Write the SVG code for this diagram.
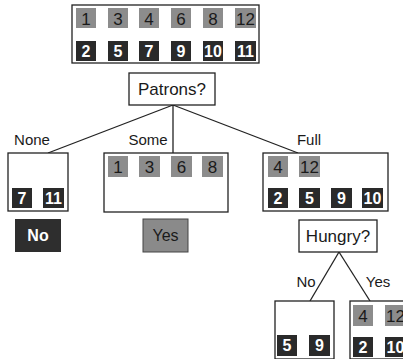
<svg xmlns="http://www.w3.org/2000/svg" width="403" height="359" viewBox="0 0 403 359">
<style>
text{font-family:"Liberation Sans",Arial,sans-serif;}
.box{fill:#fff;stroke:#222;stroke-width:1.3;}
.lt{fill:#8c8c8c;}
.dk{fill:#2a2a2a;}
.tl{font-size:17px;fill:#1a1a1a;text-anchor:middle;}
.td{font-size:16px;fill:#fff;text-anchor:middle;font-weight:bold;}
.q{font-size:17px;fill:#1a1a1a;text-anchor:middle;}
.lab{font-size:15px;fill:#1a1a1a;text-anchor:middle;}
.edge{stroke:#222;stroke-width:1.3;fill:none;}
</style>
<rect width="403" height="359" fill="#fff"/>
<g id="connectors">
<line class="edge" x1="173" y1="105" x2="48" y2="153"/>
<line class="edge" x1="173" y1="105" x2="173" y2="153"/>
<line class="edge" x1="173" y1="105" x2="298" y2="153"/>
<line class="edge" x1="339" y1="252" x2="310" y2="301"/>
<line class="edge" x1="339" y1="252" x2="370" y2="301"/>
<text class="lab" x="32" y="145">None</text>
<text class="lab" x="148" y="145">Some</text>
<text class="lab" x="309" y="145">Full</text>
<text class="lab" x="306" y="287">No</text>
<text class="lab" x="378" y="287">Yes</text>
</g>
<g id="root">
<rect class="box" x="72" y="5" width="187" height="58"/>
<rect class="lt" x="76" y="8" width="20" height="20"/><text class="tl" x="86" y="24.5">1</text>
<rect class="lt" x="108" y="8" width="20" height="20"/><text class="tl" x="118" y="24.5">3</text>
<rect class="lt" x="139" y="8" width="20" height="20"/><text class="tl" x="149" y="24.5">4</text>
<rect class="lt" x="171" y="8" width="20" height="20"/><text class="tl" x="181" y="24.5">6</text>
<rect class="lt" x="203" y="8" width="20" height="20"/><text class="tl" x="213" y="24.5">8</text>
<rect class="lt" x="235" y="8" width="21" height="20"/><text class="tl" x="245.5" y="24.5">12</text>
<rect class="dk" x="76" y="41" width="20" height="20"/><text class="td" x="86" y="57">2</text>
<rect class="dk" x="108" y="41" width="20" height="20"/><text class="td" x="118" y="57">5</text>
<rect class="dk" x="139" y="41" width="20" height="20"/><text class="td" x="149" y="57">7</text>
<rect class="dk" x="171" y="41" width="20" height="20"/><text class="td" x="181" y="57">9</text>
<rect class="dk" x="203" y="41" width="20" height="20"/><text class="td" x="213" y="57">10</text>
<rect class="dk" x="235" y="41" width="21" height="20"/><text class="td" x="245.5" y="57">11</text>
</g>
<g id="patrons">
<rect class="box" x="129" y="73" width="86" height="32"/>
<text class="q" x="172" y="95">Patrons?</text>
</g>
<g id="none">
<rect class="box" x="8" y="153" width="60" height="58"/>
<rect class="dk" x="12" y="188" width="20" height="20"/><text class="td" x="22" y="204">7</text>
<rect class="dk" x="43" y="188" width="21" height="20"/><text class="td" x="53.5" y="204">11</text>
</g>
<g id="no-leaf">
<rect fill="#2e2e2e" x="15" y="219" width="46" height="33"/>
<text class="td" x="38" y="241" style="font-size:16px">No</text>
</g>
<g id="some">
<rect class="box" x="104" y="153" width="124" height="59"/>
<rect class="lt" x="108" y="156" width="20" height="21"/><text class="tl" x="118" y="173">1</text>
<rect class="lt" x="139" y="156" width="21" height="21"/><text class="tl" x="149.5" y="173">3</text>
<rect class="lt" x="171" y="156" width="21" height="21"/><text class="tl" x="181.5" y="173">6</text>
<rect class="lt" x="202" y="156" width="21" height="21"/><text class="tl" x="212.5" y="173">8</text>
</g>
<g id="yes-leaf">
<rect fill="#8a8a8a" stroke="#444" stroke-width="1" x="143" y="219" width="45" height="33"/>
<text class="tl" x="165.5" y="241" style="font-size:16px">Yes</text>
</g>
<g id="full">
<rect class="box" x="263" y="153" width="125" height="58"/>
<rect class="lt" x="268" y="156" width="20" height="21"/><text class="tl" x="278" y="173">4</text>
<rect class="lt" x="299" y="156" width="21" height="21"/><text class="tl" x="309.5" y="173">12</text>
<rect class="dk" x="268" y="188" width="20" height="20"/><text class="td" x="278" y="204">2</text>
<rect class="dk" x="299" y="188" width="21" height="20"/><text class="td" x="309.5" y="204">5</text>
<rect class="dk" x="331" y="188" width="21" height="20"/><text class="td" x="341.5" y="204">9</text>
<rect class="dk" x="362" y="188" width="21" height="20"/><text class="td" x="372.5" y="204">10</text>
</g>
<g id="hungry">
<rect class="box" x="299" y="220" width="78" height="32"/>
<text class="q" x="338" y="242">Hungry?</text>
</g>
<g id="hungry-no">
<rect class="box" x="275" y="301" width="59" height="58"/>
<rect class="dk" x="277" y="335" width="20" height="21"/><text class="td" x="287" y="351">5</text>
<rect class="dk" x="309" y="335" width="21" height="21"/><text class="td" x="319.5" y="351">9</text>
</g>
<g id="hungry-yes">
<rect class="box" x="350" y="301" width="60" height="58"/>
<rect class="lt" x="353" y="305" width="20" height="21"/><text class="tl" x="363" y="322">4</text>
<rect class="lt" x="385" y="305" width="21" height="21"/><text class="tl" x="395.5" y="322">12</text>
<rect class="dk" x="353" y="337" width="20" height="20"/><text class="td" x="363" y="353">2</text>
<rect class="dk" x="385" y="337" width="21" height="20"/><text class="td" x="395.5" y="353">10</text>
</g>
</svg>
